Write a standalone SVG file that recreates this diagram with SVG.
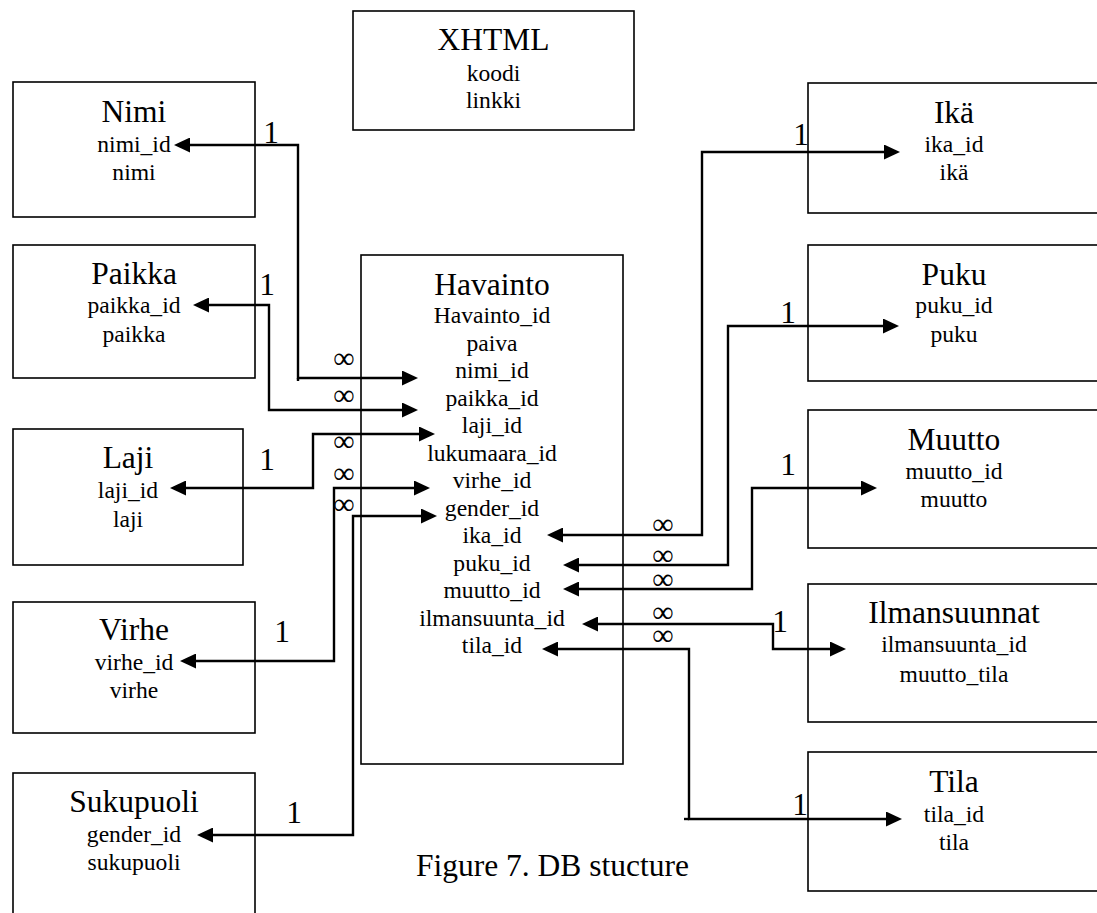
<svg xmlns="http://www.w3.org/2000/svg" width="1097" height="913" viewBox="0 0 1097 913">
<style>
.box{fill:none;stroke:#000;stroke-width:1.6}
.t{font-family:'Liberation Serif','Times New Roman',serif;fill:#000;text-anchor:middle}
.h{font-size:31.5px}
.f{font-size:23.6px}
.c{font-size:31.5px}
.inf{font-size:30px}
.con{fill:none;stroke:#000;stroke-width:2.4;marker-start:url(#ah);marker-end:url(#ah)}
.seg{fill:none;stroke:#000;stroke-width:2.4}
</style>
<defs>
<marker id="ah" viewBox="0 0 16 15" markerWidth="16" markerHeight="15" refX="8" refY="7.5" orient="auto-start-reverse" markerUnits="userSpaceOnUse">
<path d="M0,0 L16,7.5 L0,15 Z" fill="#000"/>
</marker>
</defs>
<rect width="1097" height="913" fill="#fff"/>

<g id="xhtml">
<rect class="box" x="353" y="11" width="281" height="119"/>
<text class="t h" x="493.5" y="50">XHTML</text>
<text class="t f" x="493.5" y="81">koodi</text>
<text class="t f" x="493.5" y="108">linkki</text>
</g>

<g id="nimi">
<rect class="box" x="13" y="82" width="242" height="135"/>
<text class="t h" x="134" y="122">Nimi</text>
<text class="t f" x="134" y="152">nimi_id</text>
<text class="t f" x="134" y="180">nimi</text>
</g>

<g id="paikka">
<rect class="box" x="13" y="245" width="242" height="133"/>
<text class="t h" x="134" y="284">Paikka</text>
<text class="t f" x="134" y="313">paikka_id</text>
<text class="t f" x="134" y="342">paikka</text>
</g>

<g id="laji">
<rect class="box" x="13" y="429" width="230" height="136"/>
<text class="t h" x="128" y="468">Laji</text>
<text class="t f" x="128" y="498">laji_id</text>
<text class="t f" x="128" y="527">laji</text>
</g>

<g id="virhe">
<rect class="box" x="13" y="602" width="242" height="131"/>
<text class="t h" x="134" y="640">Virhe</text>
<text class="t f" x="134" y="670">virhe_id</text>
<text class="t f" x="134" y="698">virhe</text>
</g>

<g id="sukupuoli">
<rect class="box" x="13" y="773" width="242" height="160"/>
<text class="t h" x="134" y="812">Sukupuoli</text>
<text class="t f" x="134" y="842">gender_id</text>
<text class="t f" x="134" y="870">sukupuoli</text>
</g>

<g id="havainto">
<rect class="box" x="361" y="255" width="262" height="509"/>
<text class="t h" x="492" y="295">Havainto</text>
<text class="t f" x="492" y="323">Havainto_id</text>
<text class="t f" x="492" y="350.5">paiva</text>
<text class="t f" x="492" y="378">nimi_id</text>
<text class="t f" x="492" y="405.5">paikka_id</text>
<text class="t f" x="492" y="433">laji_id</text>
<text class="t f" x="492" y="460.5">lukumaara_id</text>
<text class="t f" x="492" y="488">virhe_id</text>
<text class="t f" x="492" y="515.5">gender_id</text>
<text class="t f" x="492" y="543">ika_id</text>
<text class="t f" x="492" y="570.5">puku_id</text>
<text class="t f" x="492" y="598">muutto_id</text>
<text class="t f" x="492" y="625.5">ilmansuunta_id</text>
<text class="t f" x="492" y="653">tila_id</text>
</g>

<g id="ika">
<rect class="box" x="808" y="83" width="300" height="130"/>
<text class="t h" x="954" y="123">Ikä</text>
<text class="t f" x="954" y="152">ika_id</text>
<text class="t f" x="954" y="180">ikä</text>
</g>

<g id="puku">
<rect class="box" x="808" y="245" width="300" height="136"/>
<text class="t h" x="954" y="285">Puku</text>
<text class="t f" x="954" y="313">puku_id</text>
<text class="t f" x="954" y="342">puku</text>
</g>

<g id="muutto">
<rect class="box" x="808" y="410" width="300" height="138"/>
<text class="t h" x="954" y="450">Muutto</text>
<text class="t f" x="954" y="479">muutto_id</text>
<text class="t f" x="954" y="507">muutto</text>
</g>

<g id="ilmansuunnat">
<rect class="box" x="808" y="584" width="300" height="138"/>
<text class="t h" x="954" y="623">Ilmansuunnat</text>
<text class="t f" x="954" y="652">ilmansuunta_id</text>
<text class="t f" x="954" y="682">muutto_tila</text>
</g>

<g id="tila">
<rect class="box" x="808" y="752" width="300" height="139"/>
<text class="t h" x="954" y="792">Tila</text>
<text class="t f" x="954" y="822">tila_id</text>
<text class="t f" x="954" y="850">tila</text>
</g>

<g id="connectors">
<polyline class="con" points="182,145 298,145 298,378 410,378"/>
<path class="seg" d="M298,378 V381"/>
<polyline class="con" points="201,305 269,305 269,410 410,410"/>
<polyline class="con" points="178,488 313,488 313,434 427,434"/>
<polyline class="con" points="188,661 334,661 334,488 422,488"/>
<polyline class="con" points="205,835 353,835 353,516 429,516"/>
<polyline class="con" points="555,535 702,535 702,152 892,152"/>
<polyline class="con" points="571,565 728,565 728,326 891,326"/>
<polyline class="con" points="571,589 752,589 752,488 869,488"/>
<polyline class="con" points="590,624 773,624 773,649 838,649"/>
<polyline class="con" points="550,649 689,649 689,819 894,819"/>
<path class="seg" d="M684,819 H689"/>
</g>

<g id="labels">
<text class="t c" x="271" y="143">1</text>
<text class="t c" x="267" y="295">1</text>
<text class="t c" x="267" y="470">1</text>
<text class="t c" x="282" y="642">1</text>
<text class="t c" x="294" y="823">1</text>
<text class="t c" x="801" y="145">1</text>
<text class="t c" x="788" y="323">1</text>
<text class="t c" x="788" y="475">1</text>
<text class="t c" x="780" y="632">1</text>
<text class="t c" x="800" y="815">1</text>
<text class="t inf" x="344" y="368">∞</text>
<text class="t inf" x="344" y="405">∞</text>
<text class="t inf" x="344" y="451">∞</text>
<text class="t inf" x="344" y="483">∞</text>
<text class="t inf" x="344" y="514">∞</text>
<text class="t inf" x="663" y="534">∞</text>
<text class="t inf" x="663" y="565">∞</text>
<text class="t inf" x="663" y="589">∞</text>
<text class="t inf" x="663" y="622">∞</text>
<text class="t inf" x="663" y="645">∞</text>
</g>

<text id="caption" class="t" style="font-size:31.5px;text-anchor:start" x="416" y="876">Figure 7. DB stucture</text>
</svg>
